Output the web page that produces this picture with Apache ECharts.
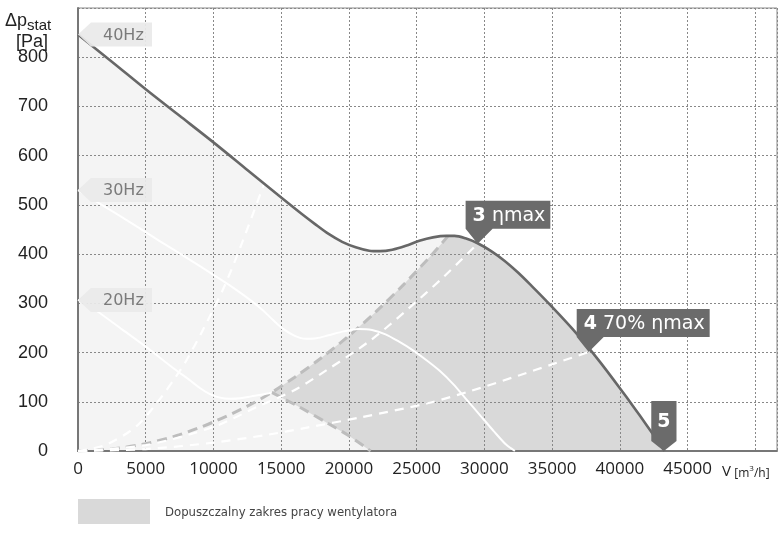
<!DOCTYPE html>
<html><head><meta charset="utf-8">
<script src="https://cdn.jsdelivr.net/npm/echarts@6/dist/echarts.min.js"></script>
<style>html,body{margin:0;padding:0;background:#fff}#c{width:779px;height:534px}</style>
</head><body><div id="c"></div>
<script>
// ---- data ----
const curveNames = ['40Hz', '30Hz', '20Hz'];
const curve40 = [[0,846],[2500,791],[5000,735],[7500,681],[10000,627],[12500,571],[15000,515],[16500,482],[17500,461],[18500,441],[19500,425],[20500,414],[21500,407],[22300,406],[23200,409],[24200,417],[25200,427],[26200,434],[27200,437],[27800,437],[28600,432],[29500,422],[30500,406],[31500,386],[32500,362],[33500,335],[34500,307],[35500,278],[36500,248],[37500,216],[38500,182],[39500,146],[40500,109],[41500,71],[42500,32],[43300,0]];
const curve30 = [[0,530],[2000,496],[4000,462],[6000,427],[8000,393],[10000,358],[11500,331],[12700,307],[13600,287],[14400,266],[15200,247],[16000,234],[16800,228],[17600,229],[18500,235],[19600,243],[20700,248],[21700,246],[22700,237],[23700,222],[24700,205],[25700,185],[26700,163],[27700,136],[28700,104],[29700,72],[30700,40],[31600,13],[32250,0]];
const curve20 = [[0,307],[1100,290],[3300,246],[5000,212],[7200,165],[8200,145],[9000,128],[9700,116],[10400,109],[11200,106],[12000,107],[12800,111],[13600,115],[14300,119]];
const tail20 = [[14300,119],[16300,90],[18400,57],[20000,31],[21600,0]];
const limitCurve = [[0,0],[2500,4],[5000,15],[7500,33],[10000,59],[12500,91],[14300,119],[16000,150],[18000,190],[20000,234],[22000,283],[24000,337],[26000,395],[27300,436]];
const etaMaxCurve = [[0,0],[5000,12],[10000,49],[13400,92],[16000,124],[18400,165],[21600,225],[24300,287],[27000,354],[29500,421]];
const eta70Curve = [[0,0],[5000,4],[10000,17],[14000,33],[17000,48],[20800,68],[25800,97],[29000,122],[32600,154],[35000,176],[37700,201]];
const steepCurve = [[0,0],[2000,12],[4300,50],[6000,104],[7200,150],[8000,184],[9200,245],[10700,328],[12000,415],[13700,540]];
const pointNums = ['3', '4', '5'];
const pointTexts = [' ηmax', ' 70% ηmax', ''];
const pointV = [29500, 37700, 43250];
const pointP = [421, 201, 0];
const legendText = 'Dopuszczalny zakres pracy wentylatora';

// ---- derived ----
const vertexV = tail20[0][0];
const limitEnd = limitCurve[limitCurve.length - 1][0];
const darkPoly = limitCurve.filter(p => p[0] >= vertexV)
  .concat(curve40.filter(p => p[0] > limitEnd))
  .concat(tail20.slice().reverse());

const curves = [curve40, curve30, curve20];
const freqData = curveNames.map((n, i) => [curves[i][0][0], curves[i][0][1], i]);
const pointData = pointNums.map((n, i) => [pointV[i], pointP[i], i]);

const mctx = document.createElement('canvas').getContext('2d');
function tw(txt, font) { mctx.font = font; return mctx.measureText(txt).width; }
const CF = '"DejaVu Sans", sans-serif';

const chart = echarts.init(document.getElementById('c'), null, {renderer: 'canvas'});
const whiteDash = (d) => ({type: 'line', data: d, smooth: 0.3, showSymbol: false, symbol: 'none', silent: true, z: 3,
  lineStyle: {color: '#ffffff', width: 2.2, type: [9, 7]}});
const greyDash = (d) => ({type: 'line', data: d, smooth: 0.3, showSymbol: false, symbol: 'none', silent: true, z: 3,
  lineStyle: {color: '#bdbdbd', width: 3, type: [10, 6]}});
const whiteSolid = (d) => ({type: 'line', data: d, smooth: 0.3, showSymbol: false, symbol: 'none', silent: true, z: 3,
  lineStyle: {color: '#ffffff', width: 2}});

chart.setOption({
  animation: false,
  backgroundColor: '#ffffff',
  grid: {left: 78, right: 2, top: 8, bottom: 83, show: true, borderColor: '#8a8a8a', borderWidth: 1, backgroundColor: 'transparent'},
  xAxis: {
    type: 'value', min: 0, max: 51600, interval: 5000, z: 2,
    axisLine: {show: true, lineStyle: {color: '#777', width: 2}},
    axisTick: {show: false},
    splitLine: {show: true, lineStyle: {color: '#888', width: 1, type: [2, 2]}},
    axisLabel: {margin: 10, color: '#222', fontSize: 17, fontFamily: '"Open Sans", sans-serif',
      formatter: v => (v > 45000 ? '' : String(v)), showMaxLabel: false}
  },
  yAxis: {
    type: 'value', min: 0, max: 900, interval: 100, z: 2,
    axisLine: {show: true, lineStyle: {color: '#777', width: 2}},
    axisTick: {show: false},
    splitLine: {show: true, lineStyle: {color: '#888', width: 1, type: [2, 2]}},
    axisLabel: {margin: 30, color: '#222', fontSize: 18, fontFamily: '"Liberation Sans", Arial, sans-serif',
      formatter: v => (v >= 900 ? '' : String(v))}
  },
  series: [
    {type: 'line', data: curve40, smooth: 0.3, showSymbol: false, symbol: 'none', silent: true, z: 0,
      lineStyle: {width: 0, opacity: 0}, areaStyle: {color: '#f4f4f4', opacity: 1}},
    {type: 'custom', z: 1, silent: true, data: [[0, 0]],
      renderItem: (params, api) => ({type: 'polygon', shape: {points: darkPoly.map(p => api.coord(p))}, style: {fill: '#d9d9d9'}})},
    greyDash(limitCurve),
    greyDash(tail20),
    whiteDash(steepCurve),
    whiteDash(etaMaxCurve),
    whiteDash(eta70Curve),
    whiteSolid(curve30),
    whiteSolid(curve20),
    {type: 'line', data: curve40, smooth: 0.3, showSymbol: false, symbol: 'none', silent: true, z: 4,
      lineStyle: {color: '#676767', width: 2.6}},
    {type: 'custom', z: 5, silent: true, data: freqData,
      renderItem: (params, api) => {
        const c = api.coord([api.value(0), api.value(1)]);
        const i = api.value(2);
        const x = c[0], y = c[1];
        return {type: 'group', children: [
          {type: 'polygon', shape: {points: [[x, y], [x + 13, y - 12], [x + 74, y - 12], [x + 74, y + 12], [x + 13, y + 12]]},
            style: {fill: 'rgba(234,234,234,0.93)'}},
          {type: 'text', x: x + 25, y: y + 1, style: {text: curveNames[i], fill: '#7a7a7a', fontSize: 16, fontFamily: CF, align: 'left', verticalAlign: 'middle'}}
        ]};
      }},
    {type: 'custom', z: 5, silent: true, data: pointData,
      renderItem: (params, api) => {
        const c = api.coord([api.value(0), api.value(1)]);
        const i = api.value(2);
        const x = c[0], y = c[1];
        const num = pointNums[i], rest = pointTexts[i];
        const wNum = tw(num, 'bold 19px ' + CF), wRest = tw(rest, '19px ' + CF);
        let left, bottom, h, w, pw, padL;
        if (rest === '') {
          padL = 6; w = wNum + 12; h = 40; left = x - w / 2; bottom = y - 10; pw = w;
        } else {
          padL = 7; w = wNum + wRest + 12; h = 28; left = x - 12; bottom = y - 15; pw = 27;
        }
        const top = bottom - h;
        return {type: 'group', children: [
          {type: 'polygon', shape: {points: [[left, top], [left + w, top], [left + w, bottom], [left + pw, bottom], [x, y], [left, bottom]]},
            style: {fill: '#6b6b6b'}},
          {type: 'text', x: left + padL, y: top + h / 2 + 1, style: {
            text: '{b|' + num + '}' + (rest ? '{n|' + rest + '}' : ''),
            rich: {b: {fontWeight: 'bold', fontSize: 19, fontFamily: CF, fill: '#fff', color: '#fff'},
                   n: {fontSize: 19, fontFamily: CF, fill: '#fff', color: '#fff'}},
            fill: '#fff', fontSize: 19, fontFamily: CF, align: 'left', verticalAlign: 'middle'}}
        ]};
      }}
  ],
  graphic: [
    {type: 'text', x: 5, y: 21, style: {text: 'Δp', fontSize: 18, fontFamily: '"Liberation Sans", Arial, sans-serif', fill: '#222', verticalAlign: 'middle'}},
    {type: 'text', x: 27, y: 26, style: {text: 'stat', fontSize: 15, fontFamily: '"Liberation Sans", Arial, sans-serif', fill: '#222', verticalAlign: 'middle'}},
    {type: 'text', x: 48, y: 42, style: {text: '[Pa]', fontSize: 18, fontFamily: '"Liberation Sans", Arial, sans-serif', fill: '#222', align: 'right', verticalAlign: 'middle'}},
    {type: 'text', x: 722, y: 472, style: {text: '{v|V} {u|[m}{s|3}{u|/h]}', fill: '#222', verticalAlign: 'middle',
      rich: {v: {fontSize: 15, fontFamily: '"Open Sans", sans-serif', fill: '#222', color: '#222', verticalAlign: 'bottom'},
             u: {fontSize: 12, fontFamily: '"Open Sans", sans-serif', fill: '#222', color: '#222', verticalAlign: 'bottom'},
             s: {fontSize: 8, fontFamily: '"Open Sans", sans-serif', fill: '#222', color: '#222', verticalAlign: 'top'}}}},
    {type: 'rect', shape: {x: 78, y: 499, width: 72, height: 25}, style: {fill: '#d9d9d9'}},
    {type: 'text', x: 165, y: 513, style: {text: legendText, fontSize: 13, fontFamily: '"Liberation Sans Narrow", "DejaVu Sans Condensed", sans-serif', fill: '#444', verticalAlign: 'middle'}}
  ]
});
</script></body></html>
